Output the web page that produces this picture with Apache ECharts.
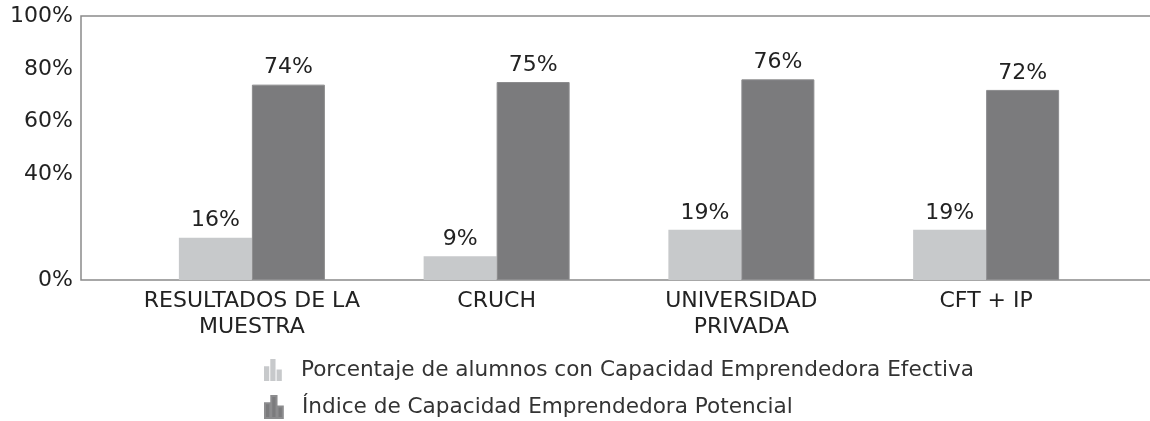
<!DOCTYPE html>
<html>
<head>
<meta charset="utf-8">
<style>
  html, body { margin: 0; padding: 0; background: #fff; }
  #chart { width: 1150px; height: 421px; }
</style>
<script src="https://cdn.jsdelivr.net/npm/echarts@6/dist/echarts.min.js"></script>
</head>
<body>
<div id="chart"></div>
<script>
const categories = ['RESULTADOS DE LA\nMUESTRA', 'CRUCH', 'UNIVERSIDAD\nPRIVADA', 'CFT + IP'];
const efectiva = [16, 9, 19, 19];
const potencial = [74, 75, 76, 72];
const yTicks = [0, 20, 40, 60, 80, 100];
const hiddenTicks = [20];
const seriesNames = [
  'Porcentaje de alumnos con Capacidad Emprendedora Efectiva',
  'Índice de Capacidad Emprendedora Potencial'
];

const font = 'DejaVu Sans';
const textColor = '#222';
const icon = 'path://M0,7H5V21H0ZM6,0H11V21H6ZM12,10H17V21H12Z';

function legendFor(name, top) {
  return {
    orient: 'vertical',
    left: 259,
    top: top,
    itemWidth: 22,
    itemHeight: 22,
    icon: icon,
    textStyle: { fontFamily: font, fontSize: 21.6, color: '#333', padding: [0, 0, 0, 12] },
    data: [name]
  };
}

const chart = echarts.init(document.getElementById('chart'));
chart.setOption({
  animation: false,
  textStyle: { fontFamily: font, color: textColor },
  grid: [
    { left: 81, width: 1090, top: 16, bottom: 141, outerBoundsMode: 'none', show: true, borderColor: '#8a8a8a', borderWidth: 1.5, backgroundColor: 'transparent' },
    { left: 129.5, width: 979, top: 16, bottom: 141, outerBoundsMode: 'none' }
  ],
  legend: [
    legendFor(seriesNames[0], 354),
    legendFor(seriesNames[1], 390)
  ],
  xAxis: [
    {
      gridIndex: 0, type: 'value', min: 0, max: 1, show: false
    },
    {
      gridIndex: 1,
      type: 'category',
      data: categories,
      axisLine: { show: false },
      axisTick: { show: false },
      axisLabel: { interval: 0, fontFamily: font, fontSize: 22, color: textColor, lineHeight: 26, margin: 8 }
    }
  ],
  yAxis: [
    {
      gridIndex: 0,
      type: 'value',
      min: 0,
      max: 100,
      interval: 20,
      axisLine: { show: false },
      axisTick: { show: false },
      splitLine: { show: false },
      axisLabel: {
        fontFamily: font, fontSize: 22, color: textColor, margin: 8,
        formatter: v => (yTicks.includes(v) && !hiddenTicks.includes(v)) ? v + '%' : ''
      }
    },
    { gridIndex: 1, type: 'value', min: 0, max: 100, show: false }
  ],
  series: [
    {
      name: seriesNames[0],
      type: 'bar',
      xAxisIndex: 1,
      yAxisIndex: 1,
      data: efectiva,
      barWidth: 73,
      barGap: '0%',
      itemStyle: { color: '#c7c9cb' },
      label: { show: true, position: 'top', formatter: '{c}%', fontFamily: font, fontSize: 22, color: textColor, distance: 6 }
    },
    {
      name: seriesNames[1],
      type: 'bar',
      xAxisIndex: 1,
      yAxisIndex: 1,
      data: potencial,
      barWidth: 73,
      barGap: '0%',
      itemStyle: { color: '#7b7b7d', borderColor: '#8c8c8e', borderWidth: 1 },
      label: { show: true, position: 'top', formatter: '{c}%', fontFamily: font, fontSize: 22, color: textColor, distance: 6 }
    }
  ]
});
</script>
</body>
</html>
